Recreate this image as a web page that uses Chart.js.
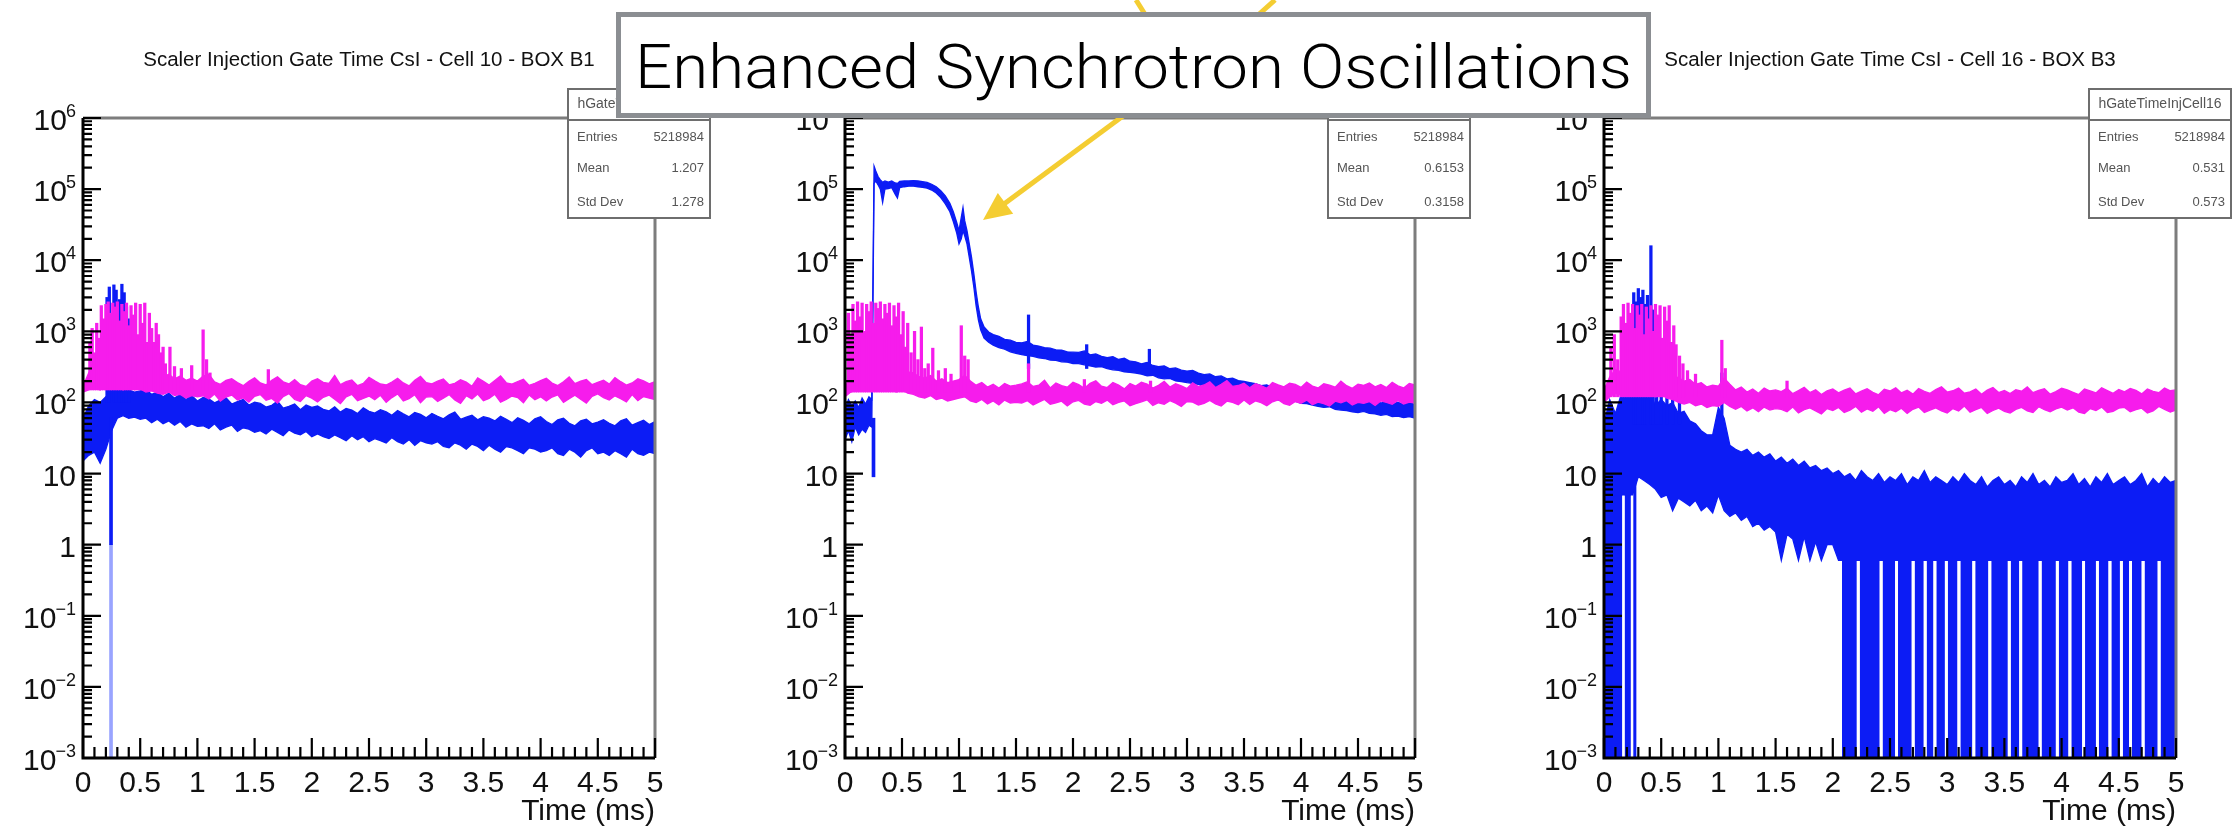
<!DOCTYPE html>
<html>
<head>
<meta charset="utf-8">
<script src="https://cdn.jsdelivr.net/npm/chart.js@4.4.1/dist/chart.umd.min.js"></script>
<style>
  html, body { margin: 0; padding: 0; background: #fff; }
  #wrap { position: relative; width: 2234px; height: 830px; overflow: hidden; background: #fff; }
  canvas.panel { position: absolute; top: 0; filter: blur(0.6px); }
  #note { position: absolute; left: 0; top: 0; }
  #note text { font-family: "Helvetica Neue", Roboto, "Liberation Sans", Arial, sans-serif; font-weight: 300; fill: #000; }
</style>
</head>
<body>
<div id="wrap">
  <canvas id="c1" class="panel" width="745" height="830" style="left:0px"></canvas>
  <canvas id="c2" class="panel" width="745" height="830" style="left:745px"></canvas>
  <canvas id="c3" class="panel" width="744" height="830" style="left:1490px"></canvas>
  <svg id="note" width="2234" height="830" viewBox="0 0 2234 830">
    <g stroke="#f4cd32" stroke-width="5" fill="none">
      <line x1="1136" y1="0" x2="1146" y2="16"/>
      <line x1="1275" y1="0" x2="1257" y2="16"/>
      <line x1="1123" y1="116" x2="1004" y2="204"/>
    </g>
    <polygon points="983,220 997.8,192.9 1013.2,213.7" fill="#f4cd32"/>
    <rect x="618.5" y="14.5" width="1030" height="101" fill="#fff" stroke="#8b8e92" stroke-width="5"/>
    <text x="635" y="88" font-size="62" textLength="997" lengthAdjust="spacingAndGlyphs">Enhanced Synchrotron Oscillations</text>
  </svg>
</div>
<script>
// ---------- bin times (ms) shared by the uniform-grid bands ----------
const TIME = [0.00,0.05,0.10,0.15,0.20,0.25,0.30,0.35,0.40,0.45,0.50,
  0.55,0.60,0.65,0.70,0.75,0.80,0.85,0.90,0.95,1.00,
  1.05,1.10,1.15,1.20,1.25,1.30,1.35,1.40,1.45,1.50,
  1.55,1.60,1.65,1.70,1.75,1.80,1.85,1.90,1.95,2.00,
  2.05,2.10,2.15,2.20,2.25,2.30,2.35,2.40,2.45,2.50,
  2.55,2.60,2.65,2.70,2.75,2.80,2.85,2.90,2.95,3.00,
  3.05,3.10,3.15,3.20,3.25,3.30,3.35,3.40,3.45,3.50,
  3.55,3.60,3.65,3.70,3.75,3.80,3.85,3.90,3.95,4.00,
  4.05,4.10,4.15,4.20,4.25,4.30,4.35,4.40,4.45,4.50,
  4.55,4.60,4.65,4.70,4.75,4.80,4.85,4.90,4.95,5.00];

const X_TICK_LABELS = ['0','0.5','1','1.5','2','2.5','3','3.5','4','4.5','5'];
const Y_TICK_EXP = [-3, -2, -1, 0, 1, 2, 3, 4, 5, 6];
const STAT_LABELS = ['Entries', 'Mean', 'Std Dev'];

// ---------- Cell 10 - BOX B1 ----------
const M1_HI = [170,260,320,300,350,330,380,300,340,290,310,
  260,280,240,230,250,215,235,205,220,200,
  235,250,195,180,205,215,190,172,198,222,
  188,176,205,230,195,182,210,178,168,200,
  215,192,185,240,178,196,207,172,185,226,
  201,182,176,194,218,188,171,205,232,190,
  183,199,214,177,186,208,193,169,221,198,
  176,204,236,189,181,197,212,174,186,203,
  219,187,173,195,228,184,199,210,178,192,
  206,181,224,196,175,188,215,201,183,197];
const M1_LO = [140,150,160,150,170,160,175,150,165,150,155,
  140,145,135,130,140,125,130,115,125,120,
  124,112,131,104,119,127,108,116,101,122,
  129,107,114,98,121,133,110,103,125,115,
  102,118,127,111,96,120,130,106,114,123,
  109,126,100,117,132,105,113,128,99,119,
  121,103,115,129,108,97,124,112,131,106,
  114,130,101,110,123,117,99,127,109,120,
  105,119,128,100,113,126,111,98,122,132,
  117,108,124,113,102,129,106,121,115,110];
const B1_HI = [60,90,110,100,120,150,170,160,150,140,145,
  150,130,140,120,135,115,130,110,125,105,
  118,112,99,108,116,95,103,110,92,101,
  97,86,91,104,83,88,95,79,92,85,
  89,80,76,87,73,82,78,70,84,75,
  71,79,74,66,77,69,63,72,68,61,
  70,64,59,67,73,58,62,66,57,63,
  60,55,64,58,52,61,56,50,59,63,
  54,49,57,60,51,47,55,58,50,53,
  57,51,47,55,59,48,52,56,49,54];
const B1_LO = [15,18,20,14,22,40,60,65,60,62,58,
  60,52,58,50,55,48,54,45,50,46,
  47,43,50,41,45,48,39,44,42,38,
  40,36,42,38,34,41,37,35,39,33,
  36,33,31,35,32,29,34,30,33,28,
  31,29,27,32,28,26,30,25,29,27,
  26,28,24,23,27,25,22,26,24,21,
  25,22,20,24,23,21,19,23,22,20,
  21,23,19,18,22,20,17,21,23,19,
  20,18,21,19,17,22,19,18,20,19];
const M1_SPK_T = [0.06,0.08,0.10,0.12,0.14,0.16,0.18,0.20,0.22,0.24,0.26,0.28,0.30,0.32,0.34,0.36,0.38,
  0.40,0.42,0.44,0.46,0.48,0.50,0.52,0.54,0.56,0.58,0.60,0.62,0.64,0.66,0.68,0.70,0.72,
  0.76,0.80,0.86,0.95,1.05,1.08,1.11,1.62];
const M1_SPK_V = [700,1100,500,1300,800,2300,1500,2400,2600,1800,2500,2200,2600,1400,2400,1900,2500,
  1200,2300,1700,2500,900,2400,1300,2500,700,1800,1100,700,1300,900,500,600,350,
  600,320,300,330,1050,400,260,290];
const B1_SPK_T = [0.21,0.23,0.27,0.29,0.32,0.34,0.36,0.38,0.40];
const B1_SPK_V = [3000,4200,4500,3800,2800,4600,3500,2200,1500];
const B1_DIP_T = [0.245, 0.245];
const B1_DIP_LO = [0.001, 1];
const B1_DIP_HI = [1, 60];

// ---------- middle panel ----------
const M2_HI = [160,250,300,280,330,320,350,300,330,290,300,
  270,260,230,220,240,200,215,190,200,210,
  240,200,175,190,165,180,160,185,170,175,
  182,196,168,175,205,160,188,172,164,193,
  178,158,186,201,169,162,190,176,155,184,
  170,192,181,159,174,198,165,183,171,157,
  189,167,176,195,162,180,203,168,173,186,
  161,184,172,158,191,177,166,187,179,163,
  194,170,160,183,175,164,199,172,158,181,
  174,188,166,179,162,192,171,160,185,176];
const M2_LO = [120,140,150,145,160,150,165,145,155,140,150,
  135,130,120,115,125,110,115,105,110,115,
  120,105,100,110,95,105,92,108,98,100,
  98,106,92,101,110,94,99,104,89,102,
  107,95,91,103,97,108,93,100,105,90,
  96,102,109,91,99,94,106,98,88,103,
  101,92,97,107,95,89,104,100,93,108,
  94,105,99,90,102,109,96,91,103,97,
  108,93,101,96,89,104,99,106,92,100,
  97,103,91,105,100,94,107,95,101,98];
const B2_T = [0,0.03,0.06,0.09,0.12,0.15,0.18,0.21,0.235,
  0.255,0.27,0.29,0.31,0.33,0.35,0.38,0.41,0.44,0.46,0.48,0.52,
  0.56,0.60,0.64,0.68,0.72,0.76,0.80,0.84,0.88,0.92,
  0.95,0.98,1.00,1.02,1.035,1.05,1.07,1.09,1.11,1.13,
  1.15,1.17,1.19,1.22,1.26,1.30,1.35,1.40,1.45,1.50,
  1.55,1.60,1.65,1.70,1.75,1.80,1.85,1.90,1.95,2.00,
  2.05,2.10,2.15,2.20,2.25,2.30,2.35,2.40,2.45,2.50,
  2.55,2.60,2.65,2.70,2.75,2.80,2.85,2.90,2.95,3.00,
  3.05,3.10,3.15,3.20,3.25,3.30,3.35,3.40,3.45,3.50,
  3.55,3.60,3.65,3.70,3.75,3.80,3.85,3.90,3.95,4.00,
  4.05,4.10,4.15,4.20,4.25,4.30,4.35,4.40,4.45,4.50,
  4.55,4.60,4.65,4.70,4.75,4.80,4.85,4.90,4.95,5.00];
const B2_HI = [80,110,90,105,85,115,95,120,110,
  2.1e5,1.8e5,1.5e5,1.35e5,1.25e5,1.3e5,1.25e5,1.3e5,1.22e5,1.2e5,1.28e5,1.3e5,
  1.3e5,1.32e5,1.3e5,1.27e5,1.24e5,1.17e5,1.08e5,9.5e4,8.0e4,6.3e4,
  4.8e4,3.4e4,2.6e4,4.0e4,5.5e4,3.6e4,2.6e4,1.7e4,1.1e4,6.5e3,
  3600,2200,1500,1150,980,900,850,770,750,700,
  690,720,640,620,590,580,550,545,515,510,
  505,530,468,480,446,428,441,402,418,380,
  372,349,366,331,318,327,298,306,284,276,
  281,259,246,252,230,236,214,219,203,197,
  190,184,172,177,162,167,152,158,146,142,
  146,133,137,125,130,118,123,114,117,108,
  112,104,109,98,103,95,101,93,99,94];
const B2_LO = [30,40,28,45,35,42,38,48,45,
  1.2e5,1.3e5,1.15e5,1.0e5,6.5e4,1.0e5,1.02e5,1.05e5,8.5e4,7.5e4,1.05e5,1.08e5,
  1.1e5,1.1e5,1.08e5,1.06e5,1.03e5,9.7e4,8.8e4,7.6e4,6.2e4,4.8e4,
  3.5e4,2.4e4,1.7e4,2.0e4,2.6e4,2.2e4,1.7e4,1.1e4,7.0e3,4.2e3,
  2300,1450,1050,800,700,640,590,560,515,490,
  470,455,445,425,415,395,390,372,368,352,
  352,338,326,315,320,298,288,283,270,264,
  259,250,236,241,222,215,218,201,196,190,
  185,179,168,171,157,155,149,143,144,134,
  131,126,122,114,117,108,111,101,104,97,
  96,92,88,85,87,80,78,77,74,72,
  75,70,69,66,68,63,64,61,63,60];
const M2_SPK_T = [0.03,0.05,0.07,0.09,0.11,0.13,0.15,0.17,0.19,0.21,0.23,0.25,0.27,0.29,0.31,0.33,0.35,
  0.37,0.39,0.41,0.43,0.45,0.47,0.49,0.51,0.53,0.55,
  0.58,0.61,0.64,0.67,0.70,0.73,0.77,0.82,0.88,0.93,1.02,1.05,1.08,1.61,2.10,2.68];
const M2_SPK_V = [1800,900,2400,1400,2600,1600,2500,1000,2400,1900,2600,1300,2500,2100,2600,1500,2400,
  1800,2500,1200,2300,1600,2500,900,1900,600,1300,
  500,1000,400,1150,300,350,580,280,300,250,1200,450,400,350,210,200];
const B2_SPK_T = [1.61, 2.12, 2.67];
const B2_SPK_V = [1700, 650, 560];
const B2_DIP_T = [0.25];
const B2_DIP_LO = [9];
const B2_DIP_HI = [60];

// ---------- Cell 16 - BOX B3 ----------
const M3_HI = [150,230,290,270,320,300,340,290,310,280,300,
  260,250,220,200,210,180,190,165,175,170,
  220,180,150,165,140,155,135,160,145,150,
  142,158,133,147,163,138,151,129,146,155,
  137,149,160,132,144,156,139,128,153,145,
  161,136,148,131,157,143,134,152,166,140,
  146,159,135,141,154,130,149,162,138,147,
  133,151,144,165,137,148,156,131,142,158,
  150,139,129,154,145,136,161,147,134,152,
  141,157,148,132,155,143,137,159,146,150];
const M3_LO = [100,120,135,125,140,130,145,125,135,120,130,
  115,110,100,95,100,90,95,85,90,88,
  100,88,80,88,76,84,74,86,78,82,
  80,74,86,71,79,84,76,69,82,77,
  85,72,78,88,73,81,75,87,70,79,
  74,83,70,80,86,72,78,84,76,71,
  82,76,89,73,79,85,70,77,83,75,
  71,80,85,76,72,87,79,74,81,86,
  78,84,73,70,82,77,86,72,75,83,
  85,74,79,83,71,76,88,80,73,78];
const B3_HI = [50,110,70,130,150,140,160,120,140,90,110,
  90,100,70,75,55,50,40,35,35,85,
  60,25,22,20,22,18,20,17,19,15,
  17,14,16,13,15,12,13,11,12,10,
  11,9,10,8,11,9,8,10,7.5,9,
  8,10,7,9,8,11,7.5,9,8,7,
  9,7.5,10,8,7,9,6.5,8,9,7,
  8,6.5,9,7.5,10,7,8,6.5,9,7.5,
  8,10,7,8.5,6.5,9,7.5,10,7,8,
  9,7,8,10,6.5,8.5,7,9,7.5,8];
const B3_LO = [5,5,5,5,5,5,9,8,7,6,4.6,
  5,3,4.5,4,3.5,4.2,3,3.5,2.8,5,
  3,2.5,2.8,2.2,2.5,1.8,2,1.6,1.8,1.5,
  0.6,1.4,1.2,0.6,1.3,0.6,1.1,0.6,1.0,1.0,
  0.6,0.6,0.6,0.6,0.6,0.6,0.6,0.6,0.6,0.6,
  0.6,0.6,0.6,0.6,0.6,0.6,0.6,0.6,0.6,0.6,
  0.6,0.6,0.6,0.6,0.6,0.6,0.6,0.6,0.6,0.6,
  0.6,0.6,0.6,0.6,0.6,0.6,0.6,0.6,0.6,0.6,
  0.6,0.6,0.6,0.6,0.6,0.6,0.6,0.6,0.6,0.6,
  0.6,0.6,0.6,0.6,0.6,0.6,0.6,0.6,0.6,0.6];
const M3_SPK_T = [0.06,0.09,0.12,0.15,0.17,0.19,0.21,0.23,0.25,0.27,0.29,0.31,0.33,0.35,0.37,0.39,0.41,
  0.43,0.45,0.47,0.49,0.51,0.53,0.55,0.57,0.59,0.61,0.63,0.66,0.69,0.73,0.80,1.03,1.06,1.60];
const M3_SPK_V = [600,900,400,1600,2400,1300,2500,1800,2400,1100,2300,1700,2400,900,2200,1500,2300,
  1000,2400,1700,2300,800,2200,1400,2300,700,1200,650,450,350,280,250,750,300,200];
const B3_SPK_T = [0.26,0.28,0.30,0.32,0.34,0.36,0.38,0.41,0.43,0.46,0.50,0.55,0.60,0.66,1.03];
const B3_SPK_V = [3500,2600,4000,3000,3800,2400,3200,16000,2000,900,600,450,300,220,260];
// runs of empty bins (drawn down to the axis floor) and the level they drop from
const B3_ZERO_START = [0,0.18,0.255,
  2.08,2.235,2.435,2.57,2.715,2.82,2.905,3.005,3.115,3.245,3.385,3.555,3.655,3.825,
  3.975,4.085,4.205,4.325,4.435,4.535,4.615,4.725,4.865];
const B3_ZERO_END = [0.16,0.235,0.285,
  2.21,2.41,2.545,2.69,2.795,2.88,2.98,3.09,3.22,3.36,3.53,3.63,3.80,3.95,
  4.06,4.18,4.30,4.41,4.51,4.59,4.70,4.84,5.0];
const B3_ZERO_TOP = [5,5,8,
  0.6,0.6,0.6,0.6,0.6,0.6,0.6,0.6,0.6,0.6,0.6,0.6,0.6,0.6,
  0.6,0.6,0.6,0.6,0.6,0.6,0.6,0.6,0.6];

// ---------- styling ----------
const FONT = "'Liberation Sans', Arial, Helvetica, sans-serif";
Chart.defaults.font.family = FONT;
const BLUE = 'rgb(12,28,245)';
const BLUE_LIGHT = 'rgba(70,90,255,0.55)';
const MAGENTA = 'rgb(246,28,236)';

function band(t, hi, lo, color) {
  const pts = arr => t.map((x, i) => ({ x, y: arr[i] }));
  return [
    { type: 'line', data: pts(hi), borderColor: color, backgroundColor: color, borderWidth: 1.3,
      pointRadius: 0, tension: 0, fill: '+1' },
    { type: 'line', data: pts(lo), borderColor: color, backgroundColor: color, borderWidth: 1.3,
      pointRadius: 0, tension: 0, fill: false }
  ];
}
function spikes(t, v, base, color, w) {
  return { type: 'bar', data: t.map((x, i) => ({ x, y: [base, v[i]] })), backgroundColor: color,
    barThickness: w, stack: 'spk', borderWidth: 0 };
}
function dips(t, lo, hi, colors, w) {
  return { type: 'bar', data: t.map((x, i) => ({ x, y: [lo[i], hi[i]] })), backgroundColor: colors,
    barThickness: w, stack: 'spk', borderWidth: 0 };
}
function emptyRuns(start, end, top, color) {
  const data = [];
  start.forEach((s, i) => { data.push({ x: s, y: top[i] }, { x: end[i], y: top[i] }, { x: end[i], y: null }); });
  return { type: 'line', data, borderColor: color, backgroundColor: color, borderWidth: 1,
    pointRadius: 0, tension: 0, spanGaps: false, fill: 'start' };
}

// ROOT-style frame, inward ticks, superscript decade labels, title and stats box
const rootDecor = {
  id: 'rootDecor',
  afterDatasetsDraw(chart) {
    const { ctx, chartArea: a, scales: { x, y } } = chart;
    ctx.save();
    ctx.lineWidth = 3;
    ctx.strokeStyle = '#7d7d7d';
    ctx.beginPath(); ctx.moveTo(a.left, a.top); ctx.lineTo(a.right, a.top); ctx.lineTo(a.right, a.bottom); ctx.stroke();
    ctx.strokeStyle = '#000';
    ctx.beginPath(); ctx.moveTo(a.left, a.top); ctx.lineTo(a.left, a.bottom); ctx.lineTo(a.right, a.bottom); ctx.stroke();
    ctx.lineWidth = 2.2;
    ctx.beginPath();
    for (let k = 0; k <= 50; k++) {
      const px = x.getPixelForValue(k / 10);
      const len = k % 5 === 0 ? 20 : 11;
      ctx.moveTo(px, a.bottom); ctx.lineTo(px, a.bottom - len);
    }
    for (const n of Y_TICK_EXP) {
      for (let m = 1; m <= 9; m++) {
        if (n === 6 && m > 1) break;
        const py = y.getPixelForValue(m * Math.pow(10, n));
        ctx.moveTo(a.left, py); ctx.lineTo(a.left + (m === 1 ? 18 : 9), py);
      }
    }
    ctx.stroke();
    ctx.restore();
  },
  afterDraw(chart, args, o) {
    const { ctx, chartArea: a, scales: { y } } = chart;
    ctx.save();
    // decade labels
    ctx.fillStyle = '#111';
    ctx.textAlign = 'right';
    ctx.textBaseline = 'alphabetic';
    const xr = a.left - 7;
    for (const n of Y_TICK_EXP) {
      const py = y.getPixelForValue(Math.pow(10, n));
      if (n === 0 || n === 1) {
        ctx.font = '30px ' + FONT;
        ctx.fillText(n === 0 ? '1' : '10', xr, py + 12);
      } else {
        const sup = n < 0 ? '\u2212' + (-n) : String(n);
        ctx.font = '18px ' + FONT;
        const w = ctx.measureText(sup).width;
        ctx.fillText(sup, xr, py - 1);
        ctx.font = '30px ' + FONT;
        ctx.fillText('10', xr - w + 1, py + 12);
      }
    }
    // title
    if (o.title) {
      ctx.font = '20.5px ' + FONT;
      ctx.fillStyle = '#111';
      ctx.textAlign = 'center';
      ctx.textBaseline = 'middle';
      ctx.fillText(o.title, (a.left + a.right) / 2, 60);
    }
    // statistics box
    const bx0 = a.right - 87, bx1 = a.right + 55, by0 = 89, byh = 120, by1 = 218;
    ctx.fillStyle = '#fff';
    ctx.fillRect(bx0, by0, bx1 - bx0, by1 - by0);
    ctx.strokeStyle = '#6e6e6e';
    ctx.lineWidth = 2;
    ctx.strokeRect(bx0, by0, bx1 - bx0, by1 - by0);
    ctx.beginPath(); ctx.moveTo(bx0, byh); ctx.lineTo(bx1, byh); ctx.stroke();
    ctx.fillStyle = '#555';
    ctx.textBaseline = 'middle';
    if (o.statName) {
      ctx.font = '14px ' + FONT;
      ctx.textAlign = 'center';
      ctx.fillText(o.statName, (bx0 + bx1) / 2, 104, bx1 - bx0 - 4);
    }
    ctx.font = '13px ' + FONT;
    const rows = [137, 168, 202];
    STAT_LABELS.forEach((lab, i) => {
      ctx.textAlign = 'left'; ctx.fillText(lab, bx0 + 9, rows[i]);
      ctx.textAlign = 'right'; ctx.fillText(o.statValues[i], bx1 - 6, rows[i]);
    });
    ctx.restore();
  }
};

function makePanel(id, axisLeft, padRight, datasets, decor) {
  return new Chart(document.getElementById(id), {
    type: 'line',
    data: { datasets },
    options: {
      responsive: false,
      animation: false,
      events: [],
      layout: { padding: { top: 118, right: padRight, bottom: 0, left: 0 } },
      plugins: { legend: { display: false }, tooltip: { enabled: false }, rootDecor: decor },
      scales: {
        x: {
          type: 'linear', min: 0, max: 5, offset: false,
          grid: { display: false, drawTicks: false }, border: { display: false },
          ticks: { stepSize: 0.5, padding: 8, color: '#111', font: { size: 30 }, maxRotation: 0, autoSkip: false,
                   callback: (v, i) => X_TICK_LABELS[i] },
          title: { display: true, text: 'Time (ms)', align: 'end', color: '#111', font: { size: 30 }, padding: 0 },
          afterFit: s => { s.height = 72; }
        },
        y: {
          type: 'logarithmic', min: 1e-3, max: 1e6, beginAtZero: false, stacked: false,
          grid: { display: false, drawTicks: false }, border: { display: false },
          ticks: { display: false },
          afterFit: s => { s.width = axisLeft; }
        }
      }
    },
    plugins: [rootDecor]
  });
}

// magenta is listed first so it is painted over the blue histogram
makePanel('c1', 83, 90, [
  spikes(M1_SPK_T, M1_SPK_V, 150, MAGENTA, 2.6),
  ...band(TIME, M1_HI, M1_LO, MAGENTA),
  spikes(B1_SPK_T, B1_SPK_V, 100, BLUE, 2.6),
  dips(B1_DIP_T, B1_DIP_LO, B1_DIP_HI, [BLUE_LIGHT, BLUE], 3),
  ...band(TIME, B1_HI, B1_LO, BLUE)
], { title: 'Scaler Injection Gate Time CsI - Cell 10 - BOX B1', statName: 'hGateTimeInjCell10',
     statValues: ['5218984', '1.207', '1.278'] });

makePanel('c2', 100, 75, [
  spikes(M2_SPK_T, M2_SPK_V, 140, MAGENTA, 2.6),
  ...band(TIME, M2_HI, M2_LO, MAGENTA),
  spikes(B2_SPK_T, B2_SPK_V, 300, BLUE, 2.6),
  dips(B2_DIP_T, B2_DIP_LO, B2_DIP_HI, [BLUE], 3),
  ...band(B2_T, B2_HI, B2_LO, BLUE)
], { title: null, statName: null, statValues: ['5218984', '0.6153', '0.3158'] });

makePanel('c3', 114, 58, [
  spikes(M3_SPK_T, M3_SPK_V, 120, MAGENTA, 2.6),
  ...band(TIME, M3_HI, M3_LO, MAGENTA),
  spikes(B3_SPK_T, B3_SPK_V, 50, BLUE, 2.6),
  ...band(TIME, B3_HI, B3_LO, BLUE),
  emptyRuns(B3_ZERO_START, B3_ZERO_END, B3_ZERO_TOP, BLUE)
], { title: 'Scaler Injection Gate Time CsI - Cell 16 - BOX B3', statName: 'hGateTimeInjCell16',
     statValues: ['5218984', '0.531', '0.573'] });
</script>
</body>
</html>
